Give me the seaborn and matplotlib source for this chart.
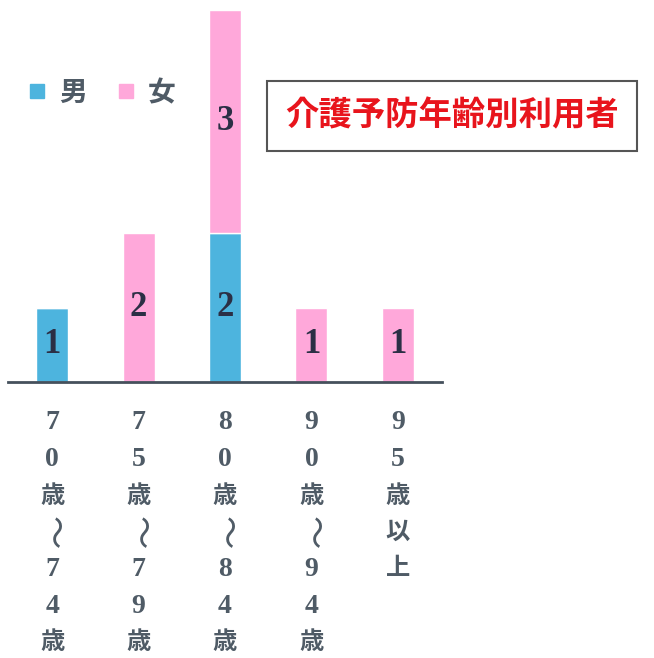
import pandas as pd
import seaborn as sns
import matplotlib.pyplot as plt
from matplotlib.lines import Line2D

categories = ['70歳〜74歳', '75歳〜79歳', '80歳〜84歳', '90歳〜94歳', '95歳以上']
male = [1, 0, 2, 0, 0]
female = [0, 2, 3, 1, 1]
title = '介護予防年齢別利用者'

MALE_COLOR = '#4db4de'
FEMALE_COLOR = '#ffa8da'
TEXT_COLOR = '#4f5b66'

df = pd.DataFrame({'category': categories, 'male': male, 'female': female})

sns.set_style('white')
plt.rcParams['font.family'] = ['Liberation Serif', 'Noto Sans CJK JP', 'DejaVu Sans']

fig = plt.figure(figsize=(6.54, 6.58), dpi=100)
ax = fig.add_axes([0.0122, 0.4195, 0.6636, 0.5805])

sns.barplot(data=df, x='category', y='male', color=MALE_COLOR, width=0.37,
            edgecolor='white', linewidth=1, saturation=1, ax=ax)
sns.barplot(data=df, x='category', y='female', bottom=df['male'], color=FEMALE_COLOR,
            width=0.37, edgecolor='white', linewidth=1, saturation=1, ax=ax)

for cont, vals in zip(ax.containers, [male, female]):
    ax.bar_label(cont, labels=[str(v) if v else '' for v in vals], label_type='center',
                 fontsize=25, fontweight='bold', color='#2b2f45')

ax.set_xlim(-0.51, 4.51)
ax.set_ylim(0, 5.13)
ax.set_xlabel('')
ax.set_ylabel('')
ax.set_xticks(range(len(categories)))
ax.set_xticklabels([])
ax.set_yticks([])
ax.tick_params(length=0)
for side in ['top', 'left', 'right']:
    ax.spines[side].set_visible(False)
ax.spines['bottom'].set_color('#45505c')
ax.spines['bottom'].set_linewidth(2)

# vertical (tategaki) tick labels
for i, label in enumerate(categories):
    for k, ch in enumerate(label):
        wave = ch == '〜'
        digit = ch.isdigit()
        ax.annotate(ch, xy=(i, 0), xycoords=ax.get_xaxis_transform(),
                    xytext=(0, -(29.5 + k * 26.4)), textcoords='offset points',
                    ha='center', va='center', fontsize=24 if wave else (20 if digit else 17.5),
                    fontweight='normal' if wave else 'bold', color=TEXT_COLOR,
                    rotation=-90 if wave else 0, annotation_clip=False)

handles = [Line2D([], [], marker='s', linestyle='', markersize=10, color=MALE_COLOR),
           Line2D([], [], marker='s', linestyle='', markersize=10, color=FEMALE_COLOR)]
fig.legend(handles, ['男', '女'], loc='center', bbox_to_anchor=(0.152, 0.857), ncol=2,
           frameon=False, prop={'size': 20, 'weight': 'bold'}, labelcolor=TEXT_COLOR,
           handletextpad=0.3, columnspacing=0.9, handlelength=1)

fig.text(452 / 654, 1 - 116 / 658, title, ha='center', va='center', fontsize=24,
         color='#e8141c', family=['Noto Sans CJK JP'], fontweight='bold',
         bbox=dict(boxstyle='square,pad=0.55', facecolor='white', edgecolor='#555555', linewidth=1.5))

fig.savefig('out.png', dpi=100)
